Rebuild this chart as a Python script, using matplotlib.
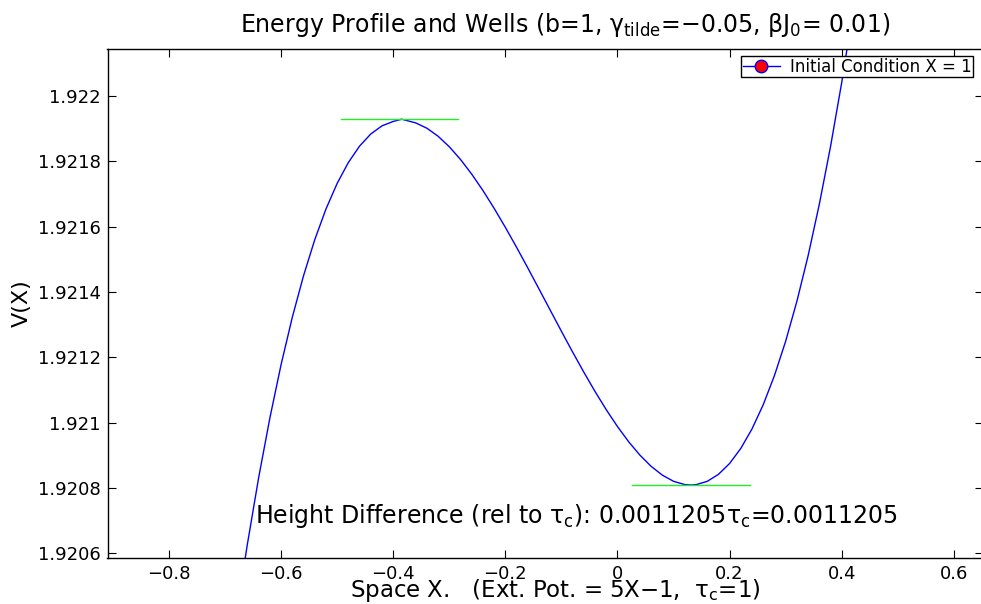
import numpy as np
import matplotlib
matplotlib.use("Agg")
import matplotlib.pyplot as plt
from matplotlib.ticker import FuncFormatter

plt.rcParams['font.family'] = ['DejaVu Sans']
plt.rcParams['mathtext.fontset'] = 'custom'
plt.rcParams['mathtext.rm'] = 'DejaVu Sans'
plt.rcParams['mathtext.it'] = 'DejaVu Sans'
plt.rcParams['axes.unicode_minus'] = True

# potential curve
space_x = [-0.67, -0.66, -0.64, -0.62, -0.60, -0.58, -0.56, -0.54, -0.52, -0.50,
           -0.48, -0.46, -0.44, -0.42, -0.40, -0.385, -0.36, -0.34, -0.32, -0.30,
           -0.28, -0.26, -0.24, -0.22, -0.20, -0.18, -0.16, -0.14, -0.12, -0.10,
           -0.08, -0.06, -0.04, -0.02, 0.00, 0.02, 0.04, 0.06, 0.08, 0.10,
           0.12, 0.1307, 0.14, 0.16, 0.18, 0.20, 0.22, 0.24, 0.26, 0.28,
           0.30, 0.32, 0.34, 0.36, 0.38, 0.40, 0.42, 0.44]
potential = [1.9205199, 1.9206290, 1.9208318, 1.9210144, 1.9211778, 1.9213226,
             1.9214497, 1.9215599, 1.9216539, 1.9217325, 1.9217965, 1.9218467,
             1.9218838, 1.9219087, 1.9219221, 1.9219290, 1.9219177, 1.9219014,
             1.9218768, 1.9218446, 1.9218056, 1.9217607, 1.9217105, 1.9216559,
             1.9215977, 1.9215366, 1.9214735, 1.9214090, 1.9213441, 1.9212794,
             1.9212158, 1.9211540, 1.9210948, 1.9210391, 1.9209875, 1.9209409,
             1.9209001, 1.9208658, 1.9208388, 1.9208199, 1.9208099, 1.9208085,
             1.9208096, 1.9208197, 1.9208411, 1.9208745, 1.9209207, 1.9209805,
             1.9210546, 1.9211439, 1.9212491, 1.9213711, 1.9215105, 1.9216682,
             1.9218450, 1.9220416, 1.9222589, 1.9224976]

# wells: extremum lines
max_x = [-0.493, -0.284]
max_v = 1.9219290
min_x = [0.026, 0.237]
min_v = 1.9208085
height_diff = 0.0011205

# initial condition (outside the view)
init_x = [1.0]
init_v = [1.9245]

x_ticks = [-0.8, -0.6, -0.4, -0.2, 0, 0.2, 0.4, 0.6]
y_ticks = [1.9206, 1.9208, 1.921, 1.9212, 1.9214, 1.9216, 1.9218, 1.922]

fig = plt.figure(figsize=(9.81, 6.04), dpi=100)
ax = fig.add_axes([107.5 / 981, 1 - 558 / 604, (983 - 107.5) / 981, (558 - 49) / 604])

ax.plot(space_x, potential, color='blue', lw=1.0)
ax.plot(max_x, [max_v, max_v], color='#22ee22', lw=1.0)
ax.plot(min_x, [min_v, min_v], color='#22ee22', lw=1.0)
ax.plot(init_x, init_v, color='blue', marker='o', markerfacecolor='red',
        markeredgecolor='blue', markersize=9, lw=1, label='Initial Condition X = 1')

ax.set_xlim(-0.9097, 0.652)
ax.set_ylim(1.920585, 1.922144)
ax.set_xticks(x_ticks)
ax.set_yticks(y_ticks)
fmt = FuncFormatter(lambda v, p: ('%g' % v).replace('-', '\u2212'))
ax.xaxis.set_major_formatter(fmt)
ax.yaxis.set_major_formatter(FuncFormatter(lambda v, p: '%g' % round(v, 5)))
ax.tick_params(direction='in', length=6, width=0.8, top=True, right=True,
               labelsize=13, pad=5)
for s in ax.spines.values():
    s.set_linewidth(1.0)

ax.set_title(r'Energy Profile and Wells (b=1, $\gamma_{\rm tilde}$=$-$0.05, $\beta$J$_0$= 0.01)',
             fontsize=17, pad=12)
ax.title.set_x((565 - 107.5) / (983 - 107.5))
ax.set_xlabel(r'Space X.   (Ext. Pot. = 5X$-$1,  $\tau_c$=1)', fontsize=16.5, labelpad=-4)
ax.xaxis.label.set_x((555 - 107.5) / (983 - 107.5))
ax.set_ylabel('V(X)', fontsize=16, labelpad=4)

ax.text(-0.646, 1.920692,
        r'Height Difference (rel to $\tau_c$): %.7f$\tau_c$=%.7f' % (height_diff, height_diff),
        fontsize=17, va='baseline')

leg = ax.legend(loc='upper right', fontsize=12, fancybox=False, framealpha=1,
                edgecolor='black', borderpad=0.1, handlelength=2.2, handletextpad=0.6,
                borderaxespad=0,
                bbox_to_anchor=((973 - 107.5) / (983 - 107.5), (558 - 56) / (558 - 49)))
leg.get_frame().set_linewidth(1.0)

fig.savefig('out.png', dpi=100)
